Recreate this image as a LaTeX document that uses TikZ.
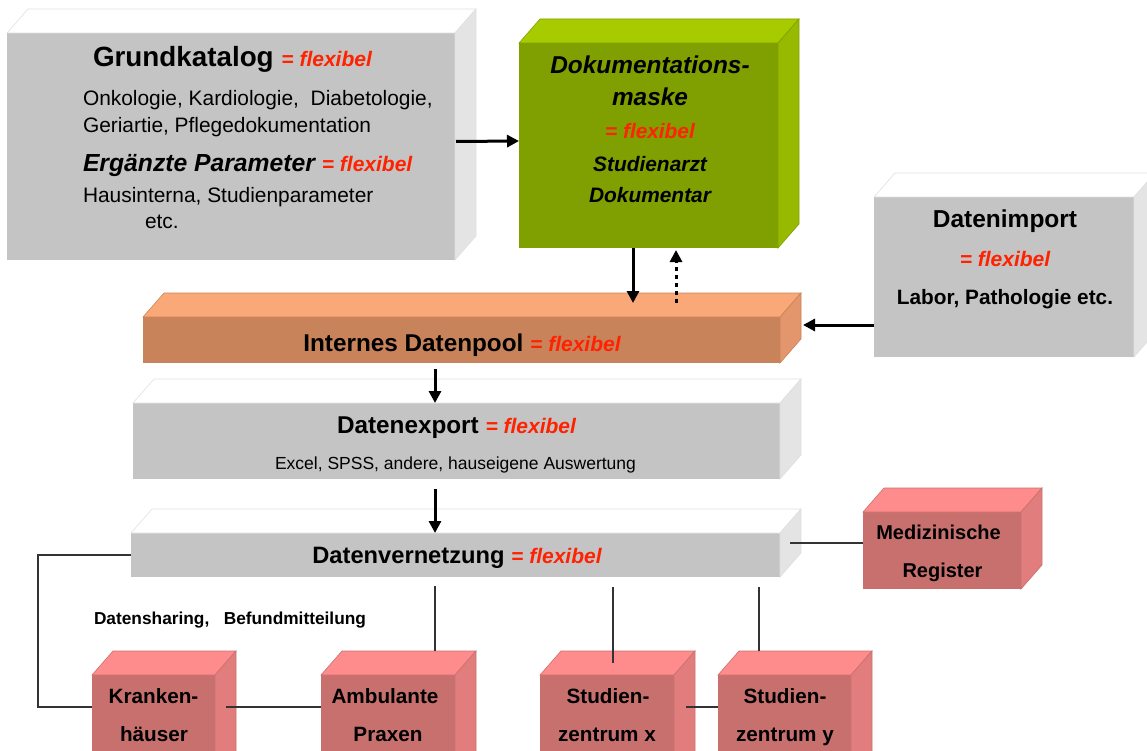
\documentclass[tikz,border=0pt]{standalone}
\usepackage{fontspec}
\setmainfont{Liberation Sans}
\usetikzlibrary{arrows.meta,calc}

\definecolor{flexred}{HTML}{FF2200}
\definecolor{grayfront}{HTML}{C4C4C4}
\definecolor{grayside}{HTML}{E4E4E4}
\definecolor{graytop}{HTML}{FFFFFF}
\definecolor{grayedge}{HTML}{E0E0E0}
\definecolor{greenfront}{HTML}{809F00}
\definecolor{greentop}{HTML}{A6CC00}
\definecolor{greenside}{HTML}{97BA00}
\definecolor{orangefront}{HTML}{C9835A}
\definecolor{orangetop}{HTML}{FBA878}
\definecolor{orangeside}{HTML}{E3956B}
\definecolor{redfront}{HTML}{C8706E}
\definecolor{redtop}{HTML}{FF8C8C}
\definecolor{redside}{HTML}{E27D7D}
\definecolor{linkgray}{HTML}{333333}

% red "= flexibel" tag in a given size
\newcommand\flexnote[1]{{\fontsize{#1}{#1}\selectfont\bfseries\itshape\color{flexred}= flexibel}}

% top and right faces of a block whose front face is node #1
\newcommand\cubefaces[4]{%
  \path[fill=#2, draw=#4, line width=0.6pt]
    (#1.north west) -- ++(21,-24) -- ($(#1.north east)+(21,-24)$) -- (#1.north east) -- cycle;
  \path[fill=#3, draw=#4, line width=0.6pt]
    (#1.north east) -- ++(21,-24) -- ($(#1.south east)+(21,-24)$) -- (#1.south east) -- cycle;
}

\tikzset{
  front/.style={rectangle, inner sep=0pt, outer sep=0pt, anchor=north west, fill=#1, draw=none},
  txt/.style={inner sep=0pt, outer sep=0pt, text=black},
  arr/.style={line width=3pt, -{Triangle[length=12pt,width=12pt]}},
  link/.style={line width=1.2pt, draw=linkgray},
}

\begin{document}
\begin{tikzpicture}[x=1pt,y=-1pt]
\useasboundingbox (0,0) rectangle (1147,751);
\clip (0,0) rectangle (1147,751);

% ---------- blocks ----------
\node[front=grayfront, minimum width=448pt, minimum height=227pt] (grund) at (7,33) {};
\cubefaces{grund}{graytop}{grayside}{grayedge}

\node[front=greenfront, minimum width=259pt, minimum height=205pt] (doku) at (519,43) {};
\cubefaces{doku}{greentop}{greenside}{greenfront}

\node[front=grayfront, minimum width=260pt, minimum height=160pt] (import) at (874,197) {};
\cubefaces{import}{graytop}{grayside}{grayedge}

\node[front=orangefront, minimum width=637pt, minimum height=46pt] (pool) at (143,317) {};
\cubefaces{pool}{orangetop}{orangeside}{orangefront}

\node[front=grayfront, minimum width=647pt, minimum height=76pt] (export) at (133,403) {};
\cubefaces{export}{graytop}{grayside}{grayedge}

\node[front=grayfront, minimum width=649pt, minimum height=44pt] (vernetz) at (131,533) {};
\cubefaces{vernetz}{graytop}{grayside}{grayedge}

\node[front=redfront, minimum width=158pt, minimum height=77pt] (medreg) at (863,512) {};
\cubefaces{medreg}{redtop}{redside}{redfront}

\node[front=redfront, minimum width=123pt, minimum height=115pt] (kranken) at (92,675) {};
\cubefaces{kranken}{redtop}{redside}{redfront}

\node[front=redfront, minimum width=134pt, minimum height=115pt] (ambul) at (321,675) {};
\cubefaces{ambul}{redtop}{redside}{redfront}

\node[front=redfront, minimum width=134pt, minimum height=115pt] (studx) at (540,675) {};
\cubefaces{studx}{redtop}{redside}{redfront}

\node[front=redfront, minimum width=133pt, minimum height=115pt] (study) at (718,675) {};
\cubefaces{study}{redtop}{redside}{redfront}

% ---------- texts ----------
\node[txt, anchor=base west, font=\fontsize{27.8}{33}\selectfont\bfseries] (gk1) at (93,67) {Grundkatalog \flexnote{21}};
\node[txt, anchor=base west, font=\fontsize{20.9}{25}\selectfont] (gk2) at (83,106) {Onkologie, Kardiologie,\ \ Diabetologie,};
\node[txt, anchor=base west, font=\fontsize{20.9}{25}\selectfont] (gk3) at (83,133) {Geriartie, Pflegedokumentation};
\node[txt, anchor=base west, font=\fontsize{24.7}{29}\selectfont\bfseries\itshape] (gk4) at (83,172) {Ergänzte Parameter \flexnote{21}};
\node[txt, anchor=base west, font=\fontsize{20.9}{25}\selectfont] (gk5) at (83,203) {Hausinterna, Studienparameter};
\node[txt, anchor=base west, font=\fontsize{20.9}{25}\selectfont] (gk6) at (145,229) {etc.};

\node[txt, anchor=base, font=\fontsize{24.4}{29}\selectfont\bfseries\itshape] (dm1) at (650,74) {Dokumentations-};
\node[txt, anchor=base, font=\fontsize{24.4}{29}\selectfont\bfseries\itshape] (dm2) at (650,106) {maske};
\node[txt, anchor=base] (dm3) at (650,139) {\flexnote{20.8}};
\node[txt, anchor=base, font=\fontsize{20.9}{25}\selectfont\bfseries\itshape] (dm4) at (650,172) {Studienarzt};
\node[txt, anchor=base, font=\fontsize{20.9}{25}\selectfont\bfseries\itshape] (dm5) at (650,203) {Dokumentar};

\node[txt, anchor=base, font=\fontsize{24.5}{29}\selectfont\bfseries] (di1) at (1005,227) {Datenimport};
\node[txt, anchor=base] (di2) at (1005,266) {\flexnote{21}};
\node[txt, anchor=base, font=\fontsize{20.8}{25}\selectfont\bfseries] (di3) at (1005,304) {Labor, Pathologie etc.};

\node[txt, anchor=base, font=\fontsize{24.3}{29}\selectfont\bfseries] (dp) at (462,351) {Internes Datenpool \flexnote{21}};

\node[txt, anchor=base, font=\fontsize{24.3}{29}\selectfont\bfseries] (de1) at (456.5,433) {Datenexport \flexnote{21}};
\node[txt, anchor=base, font=\fontsize{17.5}{21}\selectfont] (de2) at (455.5,469) {Excel, SPSS, andere, hauseigene Auswertung};

\node[txt, anchor=base, font=\fontsize{23.7}{28}\selectfont\bfseries] (dv) at (457,563) {Datenvernetzung \flexnote{21}};

\node[txt, anchor=base west, font=\fontsize{17.3}{20}\selectfont\bfseries] (share) at (94,624) {Datensharing,\ \ \ Befundmitteilung};

\node[txt, anchor=base, font=\fontsize{20}{24}\selectfont\bfseries] (mr1) at (938.5,539) {Medizinische};
\node[txt, anchor=base, font=\fontsize{20}{24}\selectfont\bfseries] (mr2) at (942.5,577) {Register};

\node[txt, anchor=base, font=\fontsize{20.7}{25}\selectfont\bfseries] (kh1) at (153.5,703) {Kranken-};
\node[txt, anchor=base, font=\fontsize{20.7}{25}\selectfont\bfseries] (kh2) at (154,741) {häuser};
\node[txt, anchor=base, font=\fontsize{20.7}{25}\selectfont\bfseries] (ap1) at (385,703) {Ambulante};
\node[txt, anchor=base, font=\fontsize{20.7}{25}\selectfont\bfseries] (ap2) at (388,741) {Praxen};
\node[txt, anchor=base, font=\fontsize{20.7}{25}\selectfont\bfseries] (sx1) at (608,703) {Studien-};
\node[txt, anchor=base, font=\fontsize{20.7}{25}\selectfont\bfseries] (sx2) at (607,741) {zentrum x};
\node[txt, anchor=base, font=\fontsize{20.7}{25}\selectfont\bfseries] (sy1) at (785,703) {Studien-};
\node[txt, anchor=base, font=\fontsize{20.7}{25}\selectfont\bfseries] (sy2) at (785,741) {zentrum y};

% ---------- arrows ----------
\draw[arr] ($(grund.east)+(1,-5)$) -- ($(doku.west)+(0,-4.5)$);
\draw[arr] ($(doku.south)+(-15.5,0)$) -- ($(doku.south |- pool.north)+(-15.5,-14)$);
\draw[arr, dash pattern=on 4pt off 4pt] ($(doku.south |- pool.north)+(27.5,-14)$) -- ($(doku.south)+(27.5,2)$);
\draw[arr] ($(import.west)+(0,48)$) -- ($(pool.east)+(23,-15)$);
\draw[arr] ($(pool.south)+(-26.5,6)$) -- ($(export.north)+(-21.5,0)$);
\draw[arr] ($(export.south)+(-21.5,10)$) -- ($(vernetz.north)+(-20.5,0)$);

% ---------- network links ----------
\draw[link] (vernetz.west) -- ++(-93,0) |- ($(kranken.north west)+(0,32)$);
\draw[link] ($(kranken.north east)+(11,32)$) -- ($(ambul.north west)+(0,32)$);
\draw[link] ($(ambul.north east)+(-20,-24)$) -- ++(0,-65);
\draw[link] ($(studx.north west)+(73,-12)$) -- ++(0,-76);
\draw[link] ($(study.north west)+(41,-24)$) -- ++(0,-64);
\draw[link] ($(studx.north east)+(12,32)$) -- ($(study.north west)+(0,32)$);
\draw[link] ($(vernetz.north east)+(10,10)$) -- ($(medreg.north west)+(0,31)$);

\end{tikzpicture}
\end{document}
